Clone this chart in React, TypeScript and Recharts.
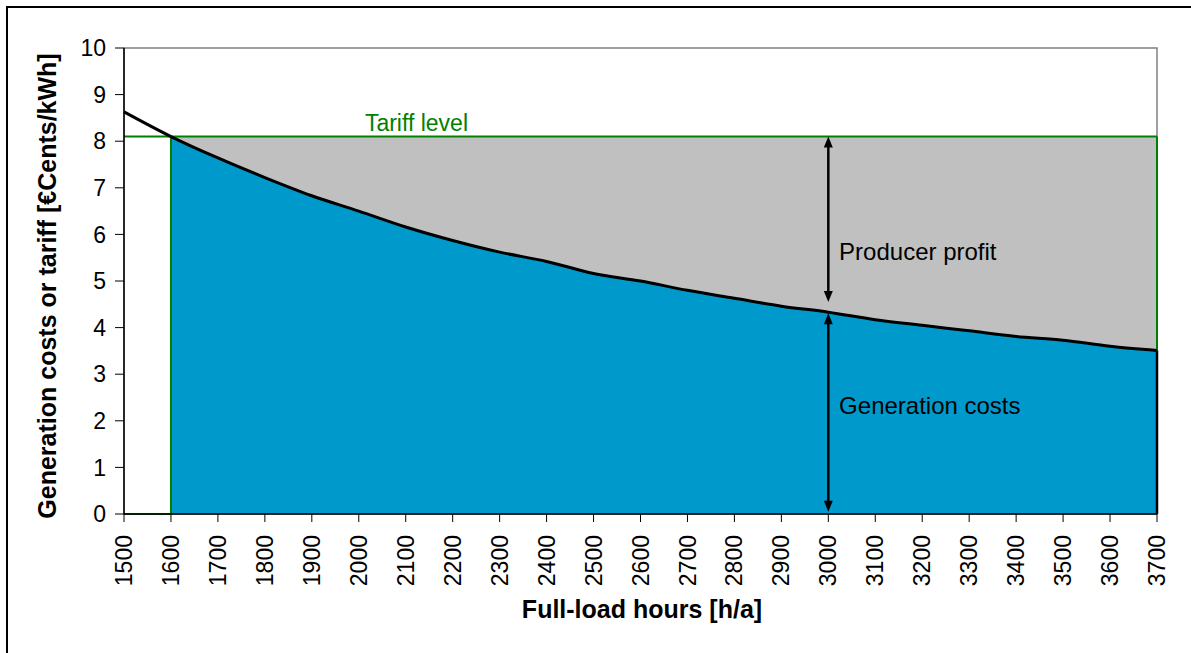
import React from 'react';
import {
  ComposedChart,
  Area,
  Line,
  XAxis,
  YAxis,
  ReferenceLine,
  ReferenceDot,
  ReferenceArea,
  Label,
} from 'recharts';

// full-load hours (x) and generation costs in €Cents/kWh (y)
const hours = [1500, 1600, 1700, 1800, 1900, 2000, 2100, 2200, 2300, 2400, 2500, 2600, 2700, 2800, 2900, 3000, 3100, 3200, 3300, 3400, 3500, 3600, 3700];
const costs = [8.63, 8.1, 7.64, 7.22, 6.83, 6.5, 6.16, 5.87, 5.62, 5.42, 5.16, 5.0, 4.8, 4.63, 4.46, 4.33, 4.17, 4.05, 3.93, 3.81, 3.73, 3.6, 3.51];
const tariffLevel = 8.1;
const tariffFrom = 1600;
const arrowAt = 3000;
const yTicks = [0, 1, 2, 3, 4, 5, 6, 7, 8, 9, 10];

const FONT = '"Liberation Sans", Arial, sans-serif';
const BLUE = '#0099CC';
const GREY = '#C0C0C0';
const GREEN = '#008000';

const data = hours.map((h, i) => ({
  h,
  cost: costs[i],
  tariff: tariffLevel,
  blue: h >= tariffFrom ? costs[i] : null,
  profit: h >= tariffFrom ? [costs[i], tariffLevel] : null,
}));

const lastHour = hours[hours.length - 1];
const lastCost = costs[costs.length - 1];
const costAtArrow = costs[hours.indexOf(arrowAt)];

const XTick = (props: any) => {
  const { x, y, payload } = props;
  return (
    <text
      x={x}
      y={y}
      transform={`rotate(-90 ${x} ${y})`}
      textAnchor="end"
      dy="0.35em"
      fontSize={23}
      fontFamily={FONT}
      fill="#000"
    >
      {payload.value}
    </text>
  );
};

// vertical double headed arrow
const DoubleArrow = (props: any) => {
  const { x1, y1, y2 } = props;
  const top = Math.min(y1, y2);
  const bot = Math.max(y1, y2);
  const head = 11;
  const half = 4.5;
  return (
    <g>
      <line x1={x1} y1={top + head - 1} x2={x1} y2={bot - head + 1} stroke="#000" strokeWidth={2.5} />
      <polygon points={`${x1},${top} ${x1 - half},${top + head} ${x1 + half},${top + head}`} fill="#000" />
      <polygon points={`${x1},${bot} ${x1 - half},${bot - head} ${x1 + half},${bot - head}`} fill="#000" />
    </g>
  );
};

const textAt = (text: string, color: string, size: number) => (props: any) => (
  <text x={props.cx} y={props.cy} fontSize={size} fontFamily={FONT} fill={color}>
    {text}
  </text>
);

const App: React.FC = () => {
  return (
    <div style={{ position: 'absolute', left: 0, top: 0, width: 1191, height: 653, background: '#fff', overflow: 'hidden' }}>
      <div style={{ position: 'absolute', left: 6, top: 6, width: 1190, height: 652, borderLeft: '2px solid #000', borderTop: '2px solid #000' }} />
      <div style={{ position: 'absolute', left: 8, top: 8 }}>
        <ComposedChart width={1183} height={645} data={data} margin={{ top: 40, right: 34, left: 0, bottom: 0 }}>
          <XAxis
            dataKey="h"
            type="number"
            domain={[1500, 3700]}
            ticks={hours}
            interval={0}
            height={139}
            tickSize={8}
            tickMargin={13}
            tick={<XTick />}
            axisLine={{ stroke: '#000', strokeWidth: 1.5 }}
            tickLine={{ stroke: '#000' }}
          >
            <Label value="Full-load hours [h/a]" position="center" dx={1.5} dy={26} fontSize={25} fontWeight={700} fontFamily={FONT} fill="#000" />
          </XAxis>
          <YAxis
            type="number"
            domain={[0, 10]}
            ticks={yTicks}
            interval={0}
            width={116}
            tickSize={9}
            tickMargin={9}
            tick={{ fontSize: 23, fontFamily: FONT, fill: '#000' }}
            axisLine={{ stroke: '#000', strokeWidth: 1.5 }}
            tickLine={{ stroke: '#000' }}
          >
            <Label value="Generation costs or tariff [€Cents/kWh]" position="center" angle={-90} dx={-19} dy={5} fontSize={25} fontWeight={700} fontFamily={FONT} fill="#000" />
          </YAxis>
          <ReferenceArea x1={1500} x2={3700} y1={0} y2={10} fill="none" stroke="#808080" strokeWidth={1.5} />
          <Area type="monotone" dataKey="blue" fill={BLUE} fillOpacity={1} stroke="none" isAnimationActive={false} dot={false} activeDot={false} />
          <Area type="monotone" dataKey="profit" fill={GREY} fillOpacity={1} stroke="none" isAnimationActive={false} dot={false} activeDot={false} />
          <Line type="linear" dataKey="tariff" stroke={GREEN} strokeWidth={2} dot={false} activeDot={false} isAnimationActive={false} />
          <ReferenceLine segment={[{ x: tariffFrom, y: 0 }, { x: tariffFrom, y: tariffLevel }]} stroke={GREEN} strokeWidth={2} />
          <ReferenceLine segment={[{ x: 1500, y: 0 }, { x: tariffFrom, y: 0 }]} stroke={GREEN} strokeWidth={2} />
          <ReferenceLine segment={[{ x: lastHour, y: lastCost }, { x: lastHour, y: tariffLevel }]} stroke={GREEN} strokeWidth={2} />
          <ReferenceLine segment={[{ x: lastHour, y: 0 }, { x: lastHour, y: lastCost }]} stroke="#000" strokeWidth={2.5} />
          <Line type="monotone" dataKey="cost" stroke="#000" strokeWidth={3} dot={false} activeDot={false} isAnimationActive={false} />
          <ReferenceLine segment={[{ x: arrowAt, y: tariffLevel }, { x: arrowAt, y: costAtArrow + 0.22 }]} shape={<DoubleArrow />} />
          <ReferenceLine segment={[{ x: arrowAt, y: costAtArrow - 0.02 }, { x: arrowAt, y: 0.05 }]} shape={<DoubleArrow />} />
          <ReferenceDot x={2013} y={8.22} r={0} shape={textAt('Tariff level', GREEN, 23)} />
          <ReferenceDot x={3023} y={5.45} r={0} shape={textAt('Producer profit', '#000', 24)} />
          <ReferenceDot x={3023} y={2.15} r={0} shape={textAt('Generation costs', '#000', 24)} />
        </ComposedChart>
      </div>
    </div>
  );
};

export default App;
